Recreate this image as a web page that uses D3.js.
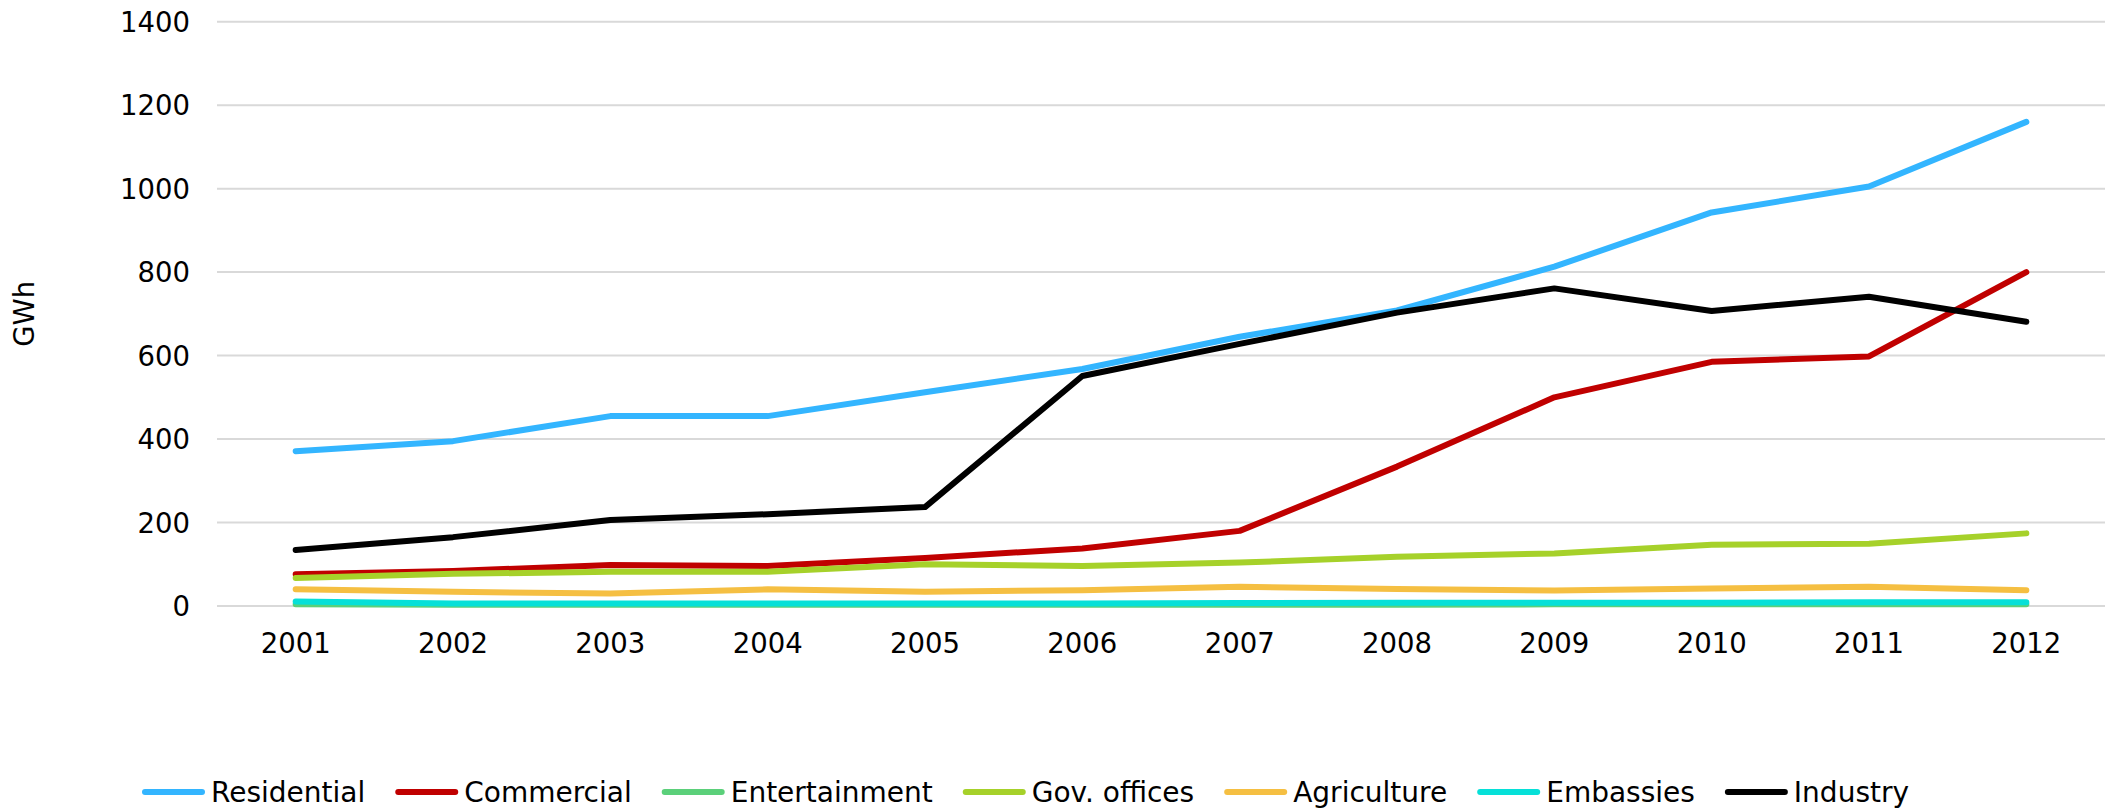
<!DOCTYPE html>
<html>
<head>
<meta charset="utf-8">
<script src="https://cdn.jsdelivr.net/npm/d3@7"></script>
<style>
  html, body { margin: 0; padding: 0; background: #fff; }
  svg { display: block; font-family: "DejaVu Sans", Verdana, sans-serif; }
</style>
</head>
<body>
<svg id="chart" width="2118" height="808"></svg>
<script>
const years = ["2001","2002","2003","2004","2005","2006","2007","2008","2009","2010","2011","2012"];
const yTicks = [0, 200, 400, 600, 800, 1000, 1200, 1400];
const seriesNames = ["Residential","Commercial","Entertainment","Gov. offices","Agriculture","Embassies","Industry"];
const seriesColors = ["#33b5ff","#c00000","#5bd07a","#a6d12a","#f5bf42","#06e0d8","#000000"];

const residential   = [371, 395, 455, 455, 512, 568, 645, 708, 813, 943, 1005, 1160];
const commercial    = [76, 84, 98, 96, 115, 138, 180, 334, 500, 585, 598, 800];
const entertainment = [4, 3, 3, 3, 3, 3, 3, 3, 4, 4, 4, 4];
const govOffices    = [67, 77, 82, 82, 100, 96, 104, 118, 126, 147, 149, 174];
const agriculture   = [40, 34, 30, 40, 34, 38, 46, 41, 37, 42, 46, 38];
const embassies     = [11, 6, 6, 6, 6, 6, 7, 8, 8, 8, 9, 9];
const industry      = [134, 165, 206, 220, 237, 551, 628, 703, 761, 707, 741, 681];

const seriesValues = [residential, commercial, entertainment, govOffices, agriculture, embassies, industry];

const svg = d3.select("#chart");
const plot = { left: 217, right: 2105, top: 21.7, bottom: 606 };

const x = d3.scaleBand().domain(years).range([plot.left, plot.right]);
const y = d3.scaleLinear().domain([0, 1400]).range([plot.bottom, plot.top]);

const fontSize = 27.5;
const legendFontSize = 28;

// gridlines
svg.append("g").selectAll("line").data(yTicks).join("line")
  .attr("x1", plot.left).attr("x2", plot.right)
  .attr("y1", d => y(d)).attr("y2", d => y(d))
  .attr("stroke", "#d9d9d9").attr("stroke-width", 2);

// y axis labels
const yAxis = d3.axisLeft(y).tickValues(yTicks).tickSize(0).tickPadding(0).tickFormat(d3.format("d"));
const gy = svg.append("g").attr("transform", `translate(190,0)`).call(yAxis);
gy.select(".domain").remove();
gy.selectAll("text").attr("font-size", fontSize).attr("fill", "#000")
  .attr("font-family", "DejaVu Sans").attr("dy", "0.35em");

// x axis labels
const xAxis = d3.axisBottom(x).tickSize(0).tickPadding(0);
const gx = svg.append("g").attr("transform", `translate(0,643)`).call(xAxis);
gx.select(".domain").remove();
gx.selectAll("text").attr("font-size", fontSize).attr("fill", "#000")
  .attr("font-family", "DejaVu Sans").attr("dy", "0.35em");

// y title
svg.append("text")
  .attr("transform", `translate(24,${(plot.top + plot.bottom) / 2}) rotate(-90)`)
  .attr("text-anchor", "middle").attr("dy", "0.35em")
  .attr("font-size", fontSize).attr("fill", "#000")
  .text("GWh");

// lines
const line = d3.line()
  .x((d, i) => x(years[i]) + x.bandwidth() / 2)
  .y(d => y(d));

svg.append("g").selectAll("path").data(seriesValues).join("path")
  .attr("d", d => line(d))
  .attr("fill", "none")
  .attr("stroke", (d, i) => seriesColors[i])
  .attr("stroke-width", 6)
  .attr("stroke-linecap", "round")
  .attr("stroke-linejoin", "round");

// legend
const legend = svg.append("g");
let lx = 142;
const ly = 792;
seriesNames.forEach((name, i) => {
  legend.append("line")
    .attr("x1", lx + 3).attr("x2", lx + 60)
    .attr("y1", ly).attr("y2", ly)
    .attr("stroke", seriesColors[i]).attr("stroke-width", 6)
    .attr("stroke-linecap", "round");
  const t = legend.append("text")
    .attr("x", lx + 69).attr("y", ly).attr("dy", "0.35em")
    .attr("font-size", legendFontSize).attr("fill", "#000")
    .text(name);
  const w = t.node().getComputedTextLength();
  lx = lx + 69 + w + 30;
});
</script>
</body>
</html>
